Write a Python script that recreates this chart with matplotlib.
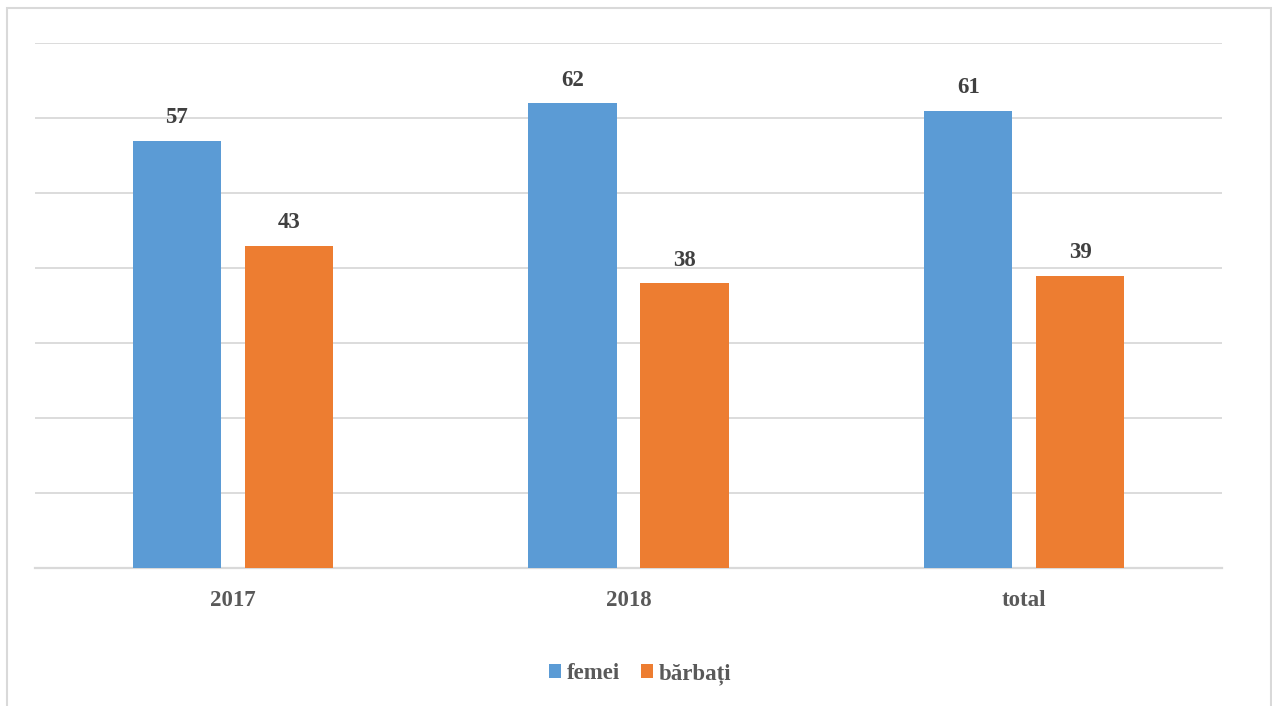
import numpy as np
import matplotlib.pyplot as plt
from matplotlib.patches import Rectangle

# Share of respondents by gender (%)
categories = ['2017', '2018', 'total']
femei = [57, 62, 61]
barbati = [43, 38, 39]
series_names = ['femei', 'bărbați']

blue = '#5b9bd5'
orange = '#ed7d31'
grid_col = '#d9d9d9'
text_col = '#595959'
label_col = '#404040'

plt.rcParams['font.family'] = ['Liberation Serif', 'DejaVu Serif']
plt.rcParams['font.weight'] = 'bold'

fig = plt.figure(figsize=(12.72, 7.06), dpi=100)
ax = fig.add_axes([35 / 1272, 1 - 568 / 706, (1222 - 35) / 1272, (568 - 43) / 706])

x = np.arange(len(categories))
w = 0.2225
off = 0.1415
b1 = ax.bar(x - off, femei, w, color=blue, label=series_names[0], zorder=3)
b2 = ax.bar(x + off, barbati, w, color=orange, label=series_names[1], zorder=3)

for bars, vals in ((b1, femei), (b2, barbati)):
    for rect, v in zip(bars, vals):
        ax.annotate(str(v), (rect.get_x() + rect.get_width() / 2, v),
                    xytext=(0, 9), textcoords='offset points',
                    ha='center', va='bottom', fontsize=16.5,
                    fontweight='bold', color=label_col)

ax.set_xlim(-0.5, 2.5)
ax.set_ylim(0, 70)
ax.set_yticks(np.arange(0, 71, 10))
ax.yaxis.grid(True, color=grid_col, linewidth=1.3)
ax.set_axisbelow(True)
ax.tick_params(axis='y', left=False, labelleft=False)
ax.tick_params(axis='x', bottom=False, pad=12.5, labelsize=16.5, labelcolor=text_col)
ax.set_xticks(x)
ax.set_xticklabels(categories, fontweight='bold')
for side in ('left', 'right', 'top'):
    ax.spines[side].set_visible(False)
ax.spines['bottom'].set_color(grid_col)
ax.spines['bottom'].set_linewidth(1.6)

leg = fig.legend(loc='center', bbox_to_anchor=(640 / 1272, 1 - 674 / 706),
                 ncol=2, frameon=False, fontsize=16.5, handlelength=0.52,
                 handleheight=0.52, handletextpad=0.25, columnspacing=0.9)
for t in leg.get_texts():
    t.set_color(text_col)
    t.set_fontweight('bold')

# thin outer frame around the chart area
fig.patches.append(Rectangle((7 / 1272, -0.05), (1271 - 7) / 1272, 1.05 - 8 / 706,
                             transform=fig.transFigure, fill=False,
                             edgecolor=grid_col, linewidth=1.5))

fig.savefig('out.png', dpi=100)
